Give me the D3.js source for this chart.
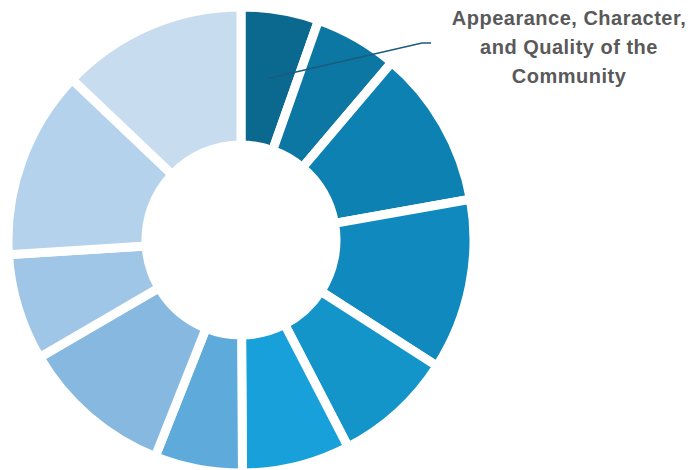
<!DOCTYPE html>
<html>
<head>
<meta charset="utf-8">
<script src="https://cdn.jsdelivr.net/npm/d3@7"></script>
<style>
  html, body { margin: 0; padding: 0; background: #fff; }
  svg { display: block; }
</style>
</head>
<body>
<div id="chart"></div>
<script>
// slice shares, clockwise from 12 o'clock
const values = [5.4, 5.8, 11.0, 11.9, 8.3, 7.5, 6.1, 10.6, 7.4, 13.1, 12.9];
const sliceIds = d3.range(values.length);
const sliceColors = [
  "#0b6990", "#0d77a3", "#0e81b3", "#0f89be", "#1395ca", "#17a0d9",
  "#5eaadb", "#87b9e0", "#a0c6e7", "#b4d2eb", "#c8dcf0"
];
const labelLines = ["Appearance, Character,", "and Quality of the", "Community"];

const width = 688,
  height = 470;

const cx = 241,
  cy = 240;

const svg = d3
  .select("#chart")
  .append("svg")
  .attr("width", width)
  .attr("height", height);

const color = d3.scaleOrdinal(sliceIds, sliceColors);

const pie = d3.pie().sort(null).value((d) => d);
const arcs = pie(values);

const arc = d3.arc().innerRadius(95).outerRadius(233);

const g = svg.append("g").attr("transform", `translate(${cx},${cy})`);

g.selectAll("path")
  .data(arcs)
  .join("path")
  .attr("d", arc)
  .attr("fill", (d, i) => color(i))
  .attr("stroke", "#fff")
  .attr("stroke-width", 9)
  .attr("stroke-linejoin", "miter");

// leader line from first slice to its label
const [px, py] = arc.centroid(arcs[0]);
svg
  .append("path")
  .attr("d", d3.line()([[cx + px, cy + py], [422, 43], [431, 43]]))
  .attr("fill", "none")
  .attr("stroke", "#1b5b7e")
  .attr("stroke-width", 1.5);

svg
  .append("g")
  .selectAll("text")
  .data(labelLines)
  .join("text")
  .attr("x", 569)
  .attr("y", (d, i) => 25 + i * 29)
  .attr("text-anchor", "middle")
  .attr("font-family", "Liberation Sans, Arial, sans-serif")
  .attr("font-weight", "bold")
  .attr("font-size", 20)
  .attr("letter-spacing", 0.5)
  .attr("fill", "#595959")
  .text((d) => d);
</script>
</body>
</html>
